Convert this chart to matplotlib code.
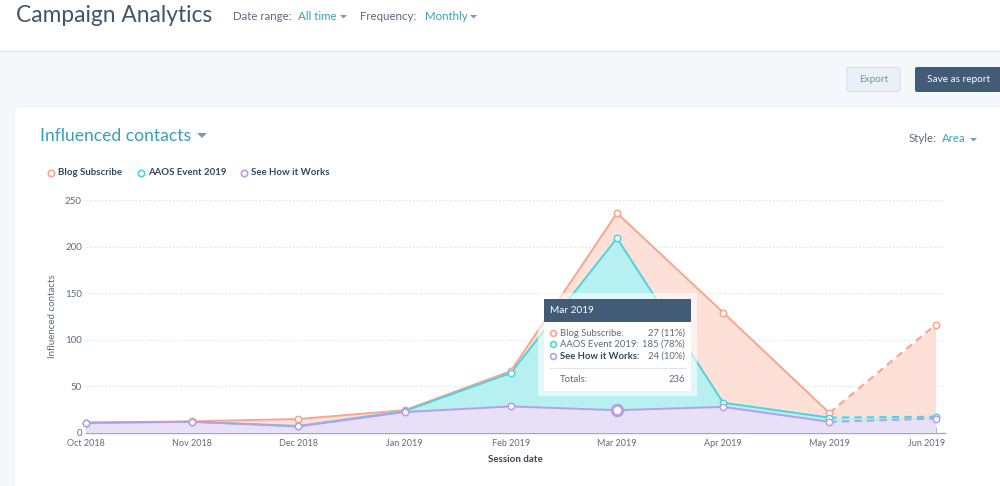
"""
Campaign Analytics dashboard screenshot - influenced contacts area chart
"""
import matplotlib
matplotlib.use('Agg')
import matplotlib.pyplot as plt
from matplotlib.patches import Rectangle, FancyBboxPatch, Polygon
from matplotlib.transforms import ScaledTranslation
import numpy as np

months = ['Oct 2018', 'Nov 2018', 'Dec 2018', 'Jan 2019', 'Feb 2019',
          'Mar 2019', 'Apr 2019', 'May 2019', 'Jun 2019']
see_how = [10.5, 11.5, 6.5, 22, 28, 24, 27.5, 11.5, 15]
aaos = [0, 0, 0.5, 1, 36, 185, 4.5, 4.5, 2]
blog = [0, 0.5, 7.5, 1, 2, 27, 97, 5, 99]
y_ticks = [0, 50, 100, 150, 200, 250]

tip_rows = [('Blog Subscribe:', '27 (11%)'),
            ('AAOS Event 2019:', '185 (78%)'),
            ('See How it Works:', '24 (10%)')]

PAGE = '#f5f8fa'
NAVY = '#425b76'
TEAL = '#3a9fb8'
TEXT = '#5b6b7c'
DARK = '#33475b'
ORANGE = '#f8a58f'
ORANGE_FILL = '#fde1d9'
CYAN = '#4fd3da'
CYAN_FILL = '#b6f0f1'
PURPLE = '#b79fe8'
PURPLE_FILL = '#e8e0f7'

plt.rcParams['font.family'] = ['Lato', 'DejaVu Sans']

W, H = 1000, 486
fig = plt.figure(figsize=(W / 100, H / 100), dpi=100)
fig.patch.set_facecolor(PAGE)


def pixel_axes(z):
    a = fig.add_axes([0, 0, 1, 1], zorder=z)
    a.set_xlim(0, W)
    a.set_ylim(H, 0)
    a.axis('off')
    a.patch.set_alpha(0)
    return a


def caret(a, x, y, w=7, h=3.5, color='#7c98b6'):
    a.add_patch(Polygon([(x, y), (x + w, y), (x + w / 2, y + h)], color=color, lw=0))


# page chrome
bg = pixel_axes(0)
bg.add_patch(Rectangle((0, 0), W, 51, color='white', lw=0))
bg.plot([0, W], [51.5, 51.5], color='#dfe3eb', lw=1)
bg.add_patch(Rectangle((14, 106), W, H, color='#f0f3f7', lw=0))
bg.add_patch(FancyBboxPatch((15, 107), W, H, boxstyle='round,pad=0,rounding_size=3',
                            fc='white', ec='none'))

bg.text(16, 16, 'Campaign Analytics', fontsize=16.4, color='#42566b', va='center')
bg.text(233, 16, 'Date range:', fontsize=8.3, color=TEXT, va='center')
bg.text(298, 16.5, 'All time', fontsize=8.3, color=TEAL, va='center')
caret(bg, 340, 15)
bg.text(360, 16, 'Frequency:', fontsize=8.3, color=TEXT, va='center')
bg.text(425, 16.5, 'Monthly', fontsize=8.3, color=TEAL, va='center')
caret(bg, 470, 15)

bg.add_patch(FancyBboxPatch((847, 67.5), 53, 24, boxstyle='round,pad=0,rounding_size=2',
                            fc='#eaf0f6', ec='#d8e0ea', lw=0.8))
bg.text(873.5, 79.5, 'Export', fontsize=7.2, color='#7c8ea3', ha='center', va='center')
bg.add_patch(FancyBboxPatch((915, 67), 100, 25, boxstyle='round,pad=0,rounding_size=2',
                            fc=NAVY, ec='none'))
bg.text(959, 79.5, 'Save as report', fontsize=7.2, color='white', ha='center', va='center')

bg.text(40, 136, 'Influenced contacts', fontsize=12.6, color=TEAL, va='center')
caret(bg, 197, 133, w=10, h=5)
bg.text(909, 138, 'Style:', fontsize=8.3, color=TEXT, va='center')
bg.text(942, 138.5, 'Area', fontsize=8.3, color=TEAL, va='center')
caret(bg, 970, 138)

for lx, tx, name, col in [(51, 58, 'Blog Subscribe', ORANGE),
                          (141, 148, 'AAOS Event 2019', CYAN),
                          (244, 251, 'See How it Works', PURPLE)]:
    bg.plot(lx, 173, 'o', ms=4.6, mfc='white', mec=col, mew=1.2)
    bg.text(tx, 172.5, name, fontsize=6.9, color=DARK, va='center', weight='bold')

# chart, 0 at y=432.5 and 250 at y=200, Oct at x=86, month step 106.2px
ax = fig.add_axes([86 / W, 1 - 432.5 / H, (945 - 86) / W, 232.5 / H], zorder=1)
ax.patch.set_alpha(0)
x = np.arange(len(months))
s1 = np.array(see_how)
s2 = s1 + np.array(aaos)
s3 = s2 + np.array(blog)
ax.set_xlim(0, (945 - 86) / 106.2)
ax.set_ylim(0, 250)

for v in y_ticks[1:]:
    ax.axhline(v, color='#dfe8f3', lw=0.9, ls=(0, (1.5, 1.5)), zorder=1)

for series, line, fill, z in [(s3, ORANGE, ORANGE_FILL, 2),
                              (s2, CYAN, CYAN_FILL, 3),
                              (s1, PURPLE, PURPLE_FILL, 4)]:
    ax.fill_between(x, series, 0, color=fill, lw=0, zorder=z)
    ax.plot(x[:8], series[:8], color=line, lw=1.4, zorder=z + 3, solid_capstyle='round')
    ax.plot(x[7:], series[7:], color=line, lw=1.5, ls=(0, (3.5, 2.5)), zorder=z + 3)
    ax.plot(x, series, 'o', ms=4.6, mfc='white', mec=line, mew=1.1, zorder=z + 6, clip_on=False)

ax.plot(x[5], s1[5], 'o', ms=7.5, mfc='white', mec=PURPLE, mew=2.2, zorder=12)

for side in ['top', 'right', 'left']:
    ax.spines[side].set_visible(False)
ax.spines['bottom'].set_color('#99acc2')
ax.spines['bottom'].set_linewidth(1)
ax.set_xticks(x)
ax.set_xticklabels(months, fontsize=6.5, color=TEXT)
ax.tick_params(axis='x', direction='in', length=4, width=0.7, color='#99acc2', pad=5)
ax.set_yticks(y_ticks)
ax.set_yticklabels([str(v) for v in y_ticks], fontsize=7, color=TEXT)
ax.tick_params(axis='y', length=0, pad=3)
ax.set_ylabel('Influenced contacts', fontsize=7, color=TEXT, labelpad=6)
ax.set_xlabel('Session date', fontsize=7, color=DARK, weight='bold', labelpad=5)

# last label is pushed left so it stays inside the plot width
last = ax.get_xticklabels()[-1]
last.set_transform(last.get_transform() + ScaledTranslation(-9 / 100, 0, fig.dpi_scale_trans))

# tooltip over the chart
top = pixel_axes(2)
top.add_patch(Rectangle((538, 293), 159, 103, fc='white', ec='none', alpha=0.6))
top.add_patch(Rectangle((544, 299), 147, 92, fc='white', ec='none'))
top.add_patch(Rectangle((544, 299), 147, 23, fc=NAVY, ec='none'))
top.text(550, 310.5, months[5], fontsize=7.2, color='white', va='center')
for y, col, (name, val), bold in zip([333, 344, 356], [ORANGE, CYAN, PURPLE], tip_rows,
                                     [False, False, True]):
    top.plot(553, y, 'o', ms=4.2, mfc='white', mec=col, mew=1.2)
    top.text(559.5, y, name, fontsize=6.8, color=DARK if bold else TEXT, va='center',
             weight='bold' if bold else 'normal')
    top.text(685, y, val, fontsize=6.8, color=TEXT, va='center', ha='right')
top.plot([550, 685], [367.5, 367.5], color='#dfe3eb', lw=0.8)
top.text(559.5, 379.5, 'Totals:', fontsize=6.8, color=TEXT, va='center')
top.text(685, 379.5, str(int(s3[5])), fontsize=6.8, color=TEXT, va='center', ha='right')

fig.savefig('out.png', dpi=100, facecolor=PAGE)
plt.close()
